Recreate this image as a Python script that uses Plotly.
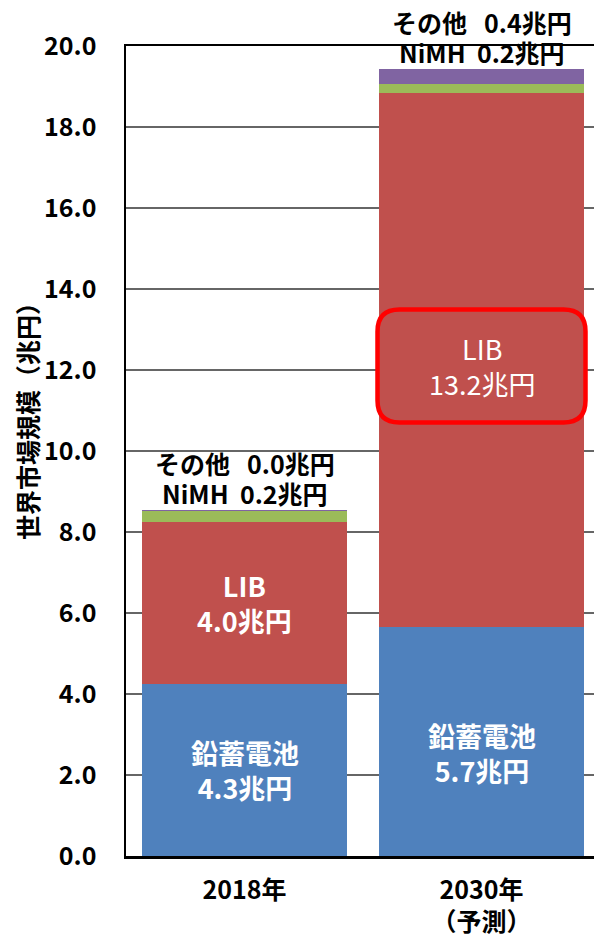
import plotly.graph_objects as go

categories = ["2018年", "2030年<br>（予測）"]
lead = [4.25, 5.65]
lib = [4.0, 13.2]
nimh = [0.27, 0.2]
other = [0.02, 0.38]

lead_labels = ["4.3", "5.7"]
lib_labels = ["4.0", "13.2"]
nimh_labels = ["0.2", "0.2"]
other_labels = ["0.0", "0.4"]

FONT = "Noto Sans CJK JP"
colors = {"lead": "#4F81BD", "lib": "#C0504D", "nimh": "#9BBB59", "other": "#8064A2"}

W, H = 594, 943
ML, MR, MT, MB = 126, 0, 46, 87
PW, PH = W - ML - MR, H - MT - MB

fig = go.Figure()
for name, vals, col in [("鉛蓄電池", lead, colors["lead"]), ("LIB", lib, colors["lib"]),
                        ("NiMH", nimh, colors["nimh"]), ("その他", other, colors["other"])]:
    fig.add_trace(go.Bar(x=categories, y=vals, name=name, marker=dict(color=col, line=dict(width=0)),
                         hoverinfo="skip"))

anns = []
for i, c in enumerate(categories):
    shift = 0 if i == 0 else -11
    anns.append(dict(x=i, y=lead[i] / 2, xref="x", yref="y", yshift=shift,
                     text=f"<b>鉛蓄電池<br>{lead_labels[i]}兆円</b>", showarrow=False,
                     font=dict(family=FONT, size=27, color="white")))
for i, c in enumerate(categories):
    shift = 0 if i == 0 else -6
    txt = f"<b>LIB<br>{lib_labels[i]}兆円</b>" if i == 0 else f"LIB<br>{lib_labels[i]}兆円"
    anns.append(dict(x=i, y=lead[i] + lib[i] / 2, xref="x", yref="y", yshift=shift,
                     text=txt, showarrow=False,
                     font=dict(family=FONT, size=27, color="white")))
for i, c in enumerate(categories):
    total = lead[i] + lib[i] + nimh[i] + other[i]
    anns.append(dict(x=i, y=total, xref="x", yref="y", yanchor="middle", yshift=17,
                     text=f"<b>NiMH\u00a0\u00a0{nimh_labels[i]}兆円</b>", showarrow=False,
                     font=dict(family=FONT, size=25, color="black")))
    anns.append(dict(x=i, y=total, xref="x", yref="y", yanchor="middle", yshift=47,
                     text=f"<b>その他\u00a0\u00a0\u00a0{other_labels[i]}兆円</b>", showarrow=False,
                     font=dict(family=FONT, size=25, color="black")))

# y-axis title as annotation for exact placement (paper coords are relative to plot area)
anns.append(dict(x=(27 - ML) / PW, y=(H - MB - 415) / PH, xref="paper", yref="paper", textangle=-90,
                 xanchor="center", yanchor="middle",
                 text="<b>世界市場規模（兆円）</b>", showarrow=False,
                 font=dict(family=FONT, size=25, color="black")))

hw, hh, r = 104, 56.5, 22
path = (f"M {-hw + r},{-hh} L {hw - r},{-hh} Q {hw},{-hh} {hw},{-hh + r} "
        f"L {hw},{hh - r} Q {hw},{hh} {hw - r},{hh} L {-hw + r},{hh} "
        f"Q {-hw},{hh} {-hw},{hh - r} L {-hw},{-hh + r} Q {-hw},{-hh} {-hw + r},{-hh} Z")
box_y = lead[1] + lib[1] / 2 - 6 / 40.5
fig.add_shape(type="path", xref="x", yref="y", xsizemode="pixel", ysizemode="pixel",
              xanchor=1, yanchor=box_y, path=path,
              line=dict(color="#FF0000", width=4.5), fillcolor="rgba(0,0,0,0)")

fig.update_layout(
    width=W, height=H,
    barmode="stack", bargap=0.135,
    showlegend=False,
    plot_bgcolor="white", paper_bgcolor="white",
    margin=dict(l=ML, r=MR, t=MT, b=MB, autoexpand=False),
    annotations=anns,
    font=dict(family=FONT, color="black"),
)
fig.update_xaxes(range=[-0.5, 1.4747], showline=True, linecolor="black", linewidth=2.5, mirror=True,
                 automargin=False,
                 tickfont=dict(family=FONT, size=25, color="black", weight="bold"),
                 ticks="outside", ticklen=10, tickcolor="rgba(0,0,0,0)", showgrid=False)
fig.update_yaxes(range=[0, 20], dtick=2, tickformat=".1f", showline=True, linecolor="black", linewidth=2.5,
                 automargin=False,
                 showgrid=True, gridcolor="#666666", gridwidth=1.5, zeroline=False,
                 ticks="outside", ticklen=22, tickcolor="rgba(0,0,0,0)",
                 tickfont=dict(family=FONT, size=25, color="black", weight="bold"))

fig.write_html("out.html", config={"displayModeBar": False, "staticPlot": True},
               post_script="document.body.style.margin='0';document.body.style.overflow='hidden';")
